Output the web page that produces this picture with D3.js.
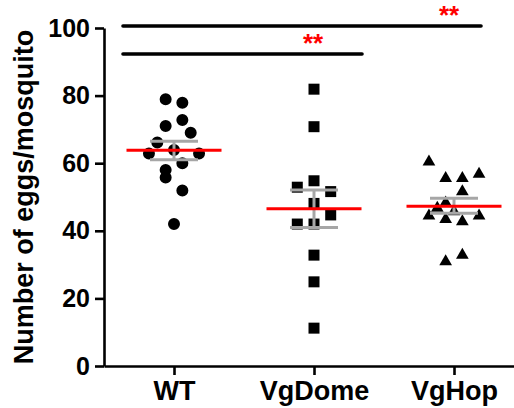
<!DOCTYPE html>
<html><head><meta charset="utf-8">
<script src="https://cdn.jsdelivr.net/npm/d3@7"></script>
<style>html,body{margin:0;padding:0;background:#fff;}</style>
</head><body>
<svg id="chart" width="514" height="408"></svg>
<script>
// ---- data ----
const categories = ["WT", "VgDome", "VgHop"];
const wtValues     = [78.9, 77.9, 72.8, 71.0, 69.0, 66.1, 63.9, 62.9, 62.9, 60.0, 58.0, 55.8, 51.9, 42.0];
const wtLanes      = [-1, 1, 1, -1, 2, -2, 0, -3, 3, 1, -1, -1, 1, 0];
const vgDomeValues = [81.9, 70.8, 54.8, 52.9, 51.6, 48.1, 44.7, 42.0, 42.0, 32.8, 24.9, 11.2];
const vgDomeLanes  = [0, 0, 0, -2, 2, 0, 2, -2, 0, 0, 0, 0];
const vgHopValues  = [60.4, 55.5, 55.5, 56.8, 51.6, 48.3, 46.7, 45.7, 44.4, 44.4, 43.4, 42.7, 32.8, 30.9];
const vgHopLanes   = [-3, -1, 1, 3, 1, -1, -2, 0, -3, 3, -1, 1, 1, -1];
const means    = [63.8, 46.5, 47.3];
const semUpper = [66.5, 52.1, 49.6];
const semLower = [61.0, 41.0, 45.2];
const yTicks = [0, 20, 40, 60, 80, 100];
const yTitle = "Number of eggs/mosquito";
const sigLabels = ["**", "**"];
const sigLevels = [100.6, 92.3];

// ---- layout ----
const svg = d3.select("#chart");
const font = "'Liberation Sans', Arial, sans-serif";
const y = d3.scaleLinear().domain([0, 100]).range([366, 28]);
const x = d3.scalePoint().domain(categories).range([104, 524]).padding(0.5);
const laneUnit = 8.35;

const groups = [
  {cat: "WT", values: wtValues, lanes: wtLanes, shape: d3.symbolCircle, size: 113},
  {cat: "VgDome", values: vgDomeValues, lanes: vgDomeLanes, shape: d3.symbolSquare, size: 121},
  {cat: "VgHop", values: vgHopValues, lanes: vgHopLanes, shape: d3.symbolTriangle, size: 70}
];

// axes
const yAxis = svg.append("g").attr("transform", "translate(104,0)")
  .call(d3.axisLeft(y).tickValues(yTicks).tickSize(9).tickSizeOuter(0).tickPadding(5));
yAxis.select(".domain").attr("stroke", "#000").attr("stroke-width", 2.6);
yAxis.selectAll(".tick line").attr("stroke", "#000").attr("stroke-width", 2.6);
yAxis.selectAll(".tick text").attr("font-family", font).attr("font-weight", "bold")
  .attr("font-size", 25).attr("fill", "#000");

const xAxis = svg.append("g").attr("transform", "translate(0,366)")
  .call(d3.axisBottom(x).tickSize(9).tickSizeOuter(0));
xAxis.select(".domain").attr("stroke", "#000").attr("stroke-width", 2.6);
xAxis.selectAll(".tick line").attr("stroke", "#000").attr("stroke-width", 2.6);
xAxis.selectAll(".tick text").attr("font-family", font).attr("font-weight", "bold")
  .attr("font-size", 27).attr("fill", "#000").attr("y", 34).attr("dy", 0);

// y title
svg.append("text")
  .attr("transform", `translate(33,${(y(0) + y(100)) / 2}) rotate(-90)`)
  .attr("text-anchor", "middle")
  .attr("font-family", font).attr("font-weight", "bold").attr("font-size", 27)
  .text(yTitle);

// points
groups.forEach(g => {
  svg.append("g").selectAll("path").data(g.values).join("path")
    .attr("d", d3.symbol().type(g.shape).size(g.size))
    .attr("transform", (v, i) => `translate(${x(g.cat) + g.lanes[i] * laneUnit},${y(v)})`)
    .attr("fill", "#000");
});

// SEM bars
const semG = svg.append("g").attr("stroke", "#a6a6a6").attr("stroke-width", 3);
categories.forEach((c, i) => {
  semG.append("line").attr("x1", x(c)).attr("x2", x(c)).attr("y1", y(semLower[i])).attr("y2", y(semUpper[i]));
  semG.append("line").attr("x1", x(c) - 24).attr("x2", x(c) + 24).attr("y1", y(semLower[i])).attr("y2", y(semLower[i]));
  semG.append("line").attr("x1", x(c) - 24).attr("x2", x(c) + 24).attr("y1", y(semUpper[i])).attr("y2", y(semUpper[i]));
});
// mean lines
svg.append("g").selectAll("line").data(means).join("line")
  .attr("x1", (m, i) => x(categories[i]) - 47.5)
  .attr("x2", (m, i) => x(categories[i]) + 47.5)
  .attr("y1", m => y(m)).attr("y2", m => y(m))
  .attr("stroke", "#ff0000").attr("stroke-width", 3);

// significance bars
const sigG = svg.append("g");
const sigSpans = [
  {x1: x("WT") - 51, x2: x("VgHop") + 27, star: x("VgHop") - 5},
  {x1: x("WT") - 51, x2: x("VgDome") + 48, star: x("VgDome") - 1}
];
sigSpans.forEach((s, i) => {
  sigG.append("line").attr("x1", s.x1).attr("x2", s.x2)
    .attr("y1", y(sigLevels[i])).attr("y2", y(sigLevels[i]))
    .attr("stroke", "#000").attr("stroke-width", 3.6).attr("stroke-linecap", "round");
  sigG.append("text").attr("x", s.star).attr("y", y(sigLevels[i]) - 2)
    .attr("text-anchor", "middle").attr("font-family", font).attr("font-weight", "bold")
    .attr("font-size", 26).attr("fill", "#ff0000").text(sigLabels[i]);
});
</script>
</body></html>
